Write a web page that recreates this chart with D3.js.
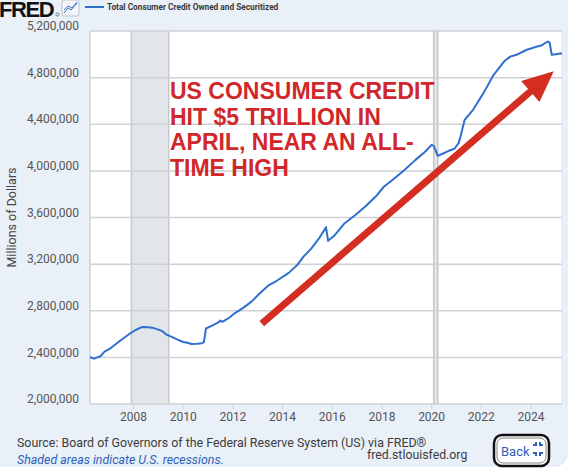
<!DOCTYPE html>
<html>
<head>
<meta charset="utf-8">
<script src="https://cdn.jsdelivr.net/npm/d3@7.9.0/dist/d3.min.js"></script>
<style>
  body { margin: 0; background: #fff; }
  text { font-family: Roboto, "Noto Sans", sans-serif; }
</style>
</head>
<body>
<svg id="chart" width="575" height="474"></svg>
<script>
// data (millions of dollars)
const months = [
  '2006-04','2006-06','2006-09','2006-11','2007-02','2007-05','2007-08','2007-11',
  '2008-02','2008-05','2008-08','2008-10','2009-01','2009-03','2009-05','2009-08',
  '2009-10','2010-01','2010-03','2010-05','2010-08','2010-10','2010-11','2010-12',
  '2011-03','2011-06','2011-07','2011-08','2011-11','2012-02','2012-06','2012-10',
  '2013-02','2013-06','2013-10','2014-04','2014-08','2014-11','2015-03','2015-07',
  '2015-10','2015-11','2016-02','2016-07','2016-12','2017-05','2017-10','2018-02',
  '2018-07','2018-12','2019-05','2019-10','2020-01','2020-02','2020-04','2020-06',
  '2020-09','2020-12','2021-02','2021-03','2021-05','2021-09','2022-02','2022-07',
  '2022-12','2023-03','2023-06','2023-11','2024-04','2024-06','2024-09','2024-10',
  '2024-11','2025-01','2025-04'
];
const credit = [
  2401000,2389000,2410000,2449000,2480000,2521000,2562000,2601000,
  2635000,2660000,2658000,2655000,2638000,2625000,2595000,2572000,
  2555000,2532000,2526000,2515000,2516000,2522000,2530000,2648000,
  2672000,2700000,2716000,2705000,2738000,2780000,2825000,2878000,
  2950000,3015000,3055000,3125000,3190000,3262000,3335000,3430000,
  3517000,3400000,3445000,3551000,3620000,3694000,3780000,3866000,
  3935000,4009000,4090000,4166000,4223000,4215000,4129000,4145000,
  4170000,4190000,4238000,4295000,4438000,4524000,4667000,4824000,
  4938000,4980000,4996000,5039000,5067000,5075000,5110000,5101000,
  4996000,5000000,5010000
];
const yTicks = [2000000, 2400000, 2800000, 3200000, 3600000, 4000000, 4400000, 4800000, 5200000];
const xTicks = [2008, 2010, 2012, 2014, 2016, 2018, 2020, 2022, 2024];
const recessions = [['2007-12', '2009-06'], ['2020-02', '2020-04']];

const seriesName = 'Total Consumer Credit Owned and Securitized';
const yLabel = 'Millions of Dollars';
const noteLines = ['US CONSUMER CREDIT', 'HIT $5 TRILLION IN', 'APRIL, NEAR AN ALL-', 'TIME HIGH'];
const arrowFrom = ['2013-03', 2690000];
const arrowTo = ['2024-12', 4855000];

const parse = d3.timeParse('%Y-%m');
const data = months.map((m, i) => ({ date: parse(m), value: credit[i] }));

const svg = d3.select('#chart');
const plotL = 90, plotR = 562, plotT = 31, plotB = 404;

const x = d3.scaleTime()
  .domain([parse('2006-04'), parse('2025-04')])
  .range([plotL, plotR]);
const y = d3.scaleLinear()
  .domain([2000000, 5200000])
  .range([plotB, plotT]);

// panel background
svg.append('rect')
  .attr('x', -12).attr('y', -12)
  .attr('width', 579).attr('height', 478)
  .attr('rx', 12)
  .attr('fill', '#eaf0f8')
  .attr('stroke', '#dfe5ee');

// plot area
svg.append('rect')
  .attr('x', plotL).attr('y', plotT)
  .attr('width', plotR - plotL).attr('height', plotB - plotT)
  .attr('fill', '#fff');

// recession shading
recessions.forEach(([a, b]) => {
  const x0 = x(parse(a)), x1 = x(parse(b));
  svg.append('rect')
    .attr('x', x0).attr('y', plotT)
    .attr('width', x1 - x0).attr('height', plotB - plotT)
    .attr('fill', '#e2e5e9');
  [x0, x1].forEach(v => {
    svg.append('line')
      .attr('x1', v).attr('x2', v).attr('y1', plotT).attr('y2', plotB)
      .attr('stroke', '#c6c8cc').attr('stroke-width', 1.5);
  });
});

// horizontal grid
svg.append('g')
  .selectAll('line')
  .data(yTicks)
  .join('line')
  .attr('x1', plotL).attr('x2', plotR)
  .attr('y1', d => y(d)).attr('y2', d => y(d))
  .attr('stroke', '#cfd1d4')
  .attr('stroke-width', 1.5);

// plot edges
svg.append('line')
  .attr('x1', plotL).attr('x2', plotL).attr('y1', plotT).attr('y2', plotB)
  .attr('stroke', '#cdd3da').attr('stroke-width', 1.5);
svg.append('line')
  .attr('x1', plotR).attr('x2', plotR).attr('y1', plotT).attr('y2', plotB)
  .attr('stroke', '#dde2e8').attr('stroke-width', 1);

// y tick labels
svg.append('g')
  .selectAll('text')
  .data(yTicks)
  .join('text')
  .attr('x', 79)
  .attr('y', d => y(d) - 5)
  .attr('dy', '0.35em')
  .attr('text-anchor', 'end')
  .attr('font-size', 12)
  .attr('fill', '#555')
  .text(d => d3.format(',')(d));

// x ticks and labels
const xg = svg.append('g');
xTicks.forEach(yr => {
  const px = x(new Date(yr, 0, 1));
  xg.append('line')
    .attr('x1', px).attr('x2', px).attr('y1', plotB).attr('y2', plotB + 5)
    .attr('stroke', '#d0d3d7');
  xg.append('text')
    .attr('x', px).attr('y', plotB + 17)
    .attr('text-anchor', 'middle')
    .attr('font-size', 12)
    .attr('fill', '#555')
    .text(yr);
});

// y axis title
svg.append('text')
  .attr('transform', `translate(16,${(plotT + plotB) / 2}) rotate(-90)`)
  .attr('text-anchor', 'middle')
  .attr('font-size', 12.5)
  .attr('fill', '#444')
  .text(yLabel);

// series line
svg.append('path')
  .datum(data)
  .attr('fill', 'none')
  .attr('stroke', '#2f6fcf')
  .attr('stroke-width', 2)
  .attr('stroke-linejoin', 'round')
  .attr('d', d3.line().x(d => x(d.date)).y(d => y(d.value)));

// annotation text
svg.append('g')
  .selectAll('text')
  .data(noteLines)
  .join('text')
  .attr('x', 170)
  .attr('y', (d, i) => 99 + i * 25.7)
  .attr('font-weight', 'bold')
  .attr('font-size', 23)
  .attr('fill', '#d0282a')
  .style('font-family', '"Liberation Sans", Arial, sans-serif')
  .text(d => d);

// arrow
const ax0 = x(parse(arrowFrom[0])), ay0 = y(arrowFrom[1]);
const ax1 = x(parse(arrowTo[0])), ay1 = y(arrowTo[1]);
const ang = Math.atan2(ay1 - ay0, ax1 - ax0);
const headLen = 31, headHalf = 14;
const bx = ax1 - headLen * Math.cos(ang), by = ay1 - headLen * Math.sin(ang);
svg.append('line')
  .attr('x1', ax0).attr('y1', ay0)
  .attr('x2', bx + 3 * Math.cos(ang)).attr('y2', by + 3 * Math.sin(ang))
  .attr('stroke', '#d42d22')
  .attr('stroke-width', 7);
svg.append('polygon')
  .attr('points', [
    [ax1, ay1],
    [bx - headHalf * Math.sin(ang), by + headHalf * Math.cos(ang)],
    [bx + headHalf * Math.sin(ang), by - headHalf * Math.cos(ang)]
  ].map(p => p.join(',')).join(' '))
  .attr('fill', '#d42d22');

// header: logo + legend
svg.append('text')
  .attr('x', -1).attr('y', 17)
  .attr('font-size', 22)
  .attr('font-weight', 900)
  .attr('letter-spacing', -1.4)
  .attr('fill', '#111')
  .style('font-family', '"Liberation Sans", Arial, sans-serif')
  .text('FRED');
svg.append('circle')
  .attr('cx', 57.5).attr('cy', 14.5).attr('r', 1.6)
  .attr('fill', 'none').attr('stroke', '#111').attr('stroke-width', 0.5);
svg.append('rect')
  .attr('x', 62).attr('y', 0).attr('width', 17).attr('height', 16)
  .attr('rx', 2)
  .attr('fill', '#f4f6f9').attr('stroke', '#b9c2cf');
svg.append('path')
  .attr('d', 'M64,13 L68,8 L71,10 L77,3 M64,10 L68,6 L72,8 L77,2')
  .attr('fill', 'none').attr('stroke', '#3b6fc4').attr('stroke-width', 1);
svg.append('line')
  .attr('x1', 85).attr('x2', 104).attr('y1', 7).attr('y2', 7)
  .attr('stroke', '#2f6fcf').attr('stroke-width', 2);
svg.append('text')
  .attr('x', 107).attr('y', 9.5)
  .attr('font-size', 8.3)
  .attr('font-weight', 'bold')
  .attr('fill', '#3a3a3a')
  .text(seriesName);

// footer
svg.append('text')
  .attr('x', 17).attr('y', 447)
  .attr('font-size', 12.4)
  .attr('fill', '#3c3c3c')
  .text('Source: Board of Governors of the Federal Reserve System (US) via FRED®');
svg.append('text')
  .attr('x', 17).attr('y', 464)
  .attr('font-size', 12.4)
  .attr('font-style', 'italic')
  .attr('fill', '#2d62b8')
  .text('Shaded areas indicate U.S. recessions.');
svg.append('text')
  .attr('x', 367).attr('y', 459)
  .attr('font-size', 12.3)
  .attr('fill', '#3c3c3c')
  .text('fred.stlouisfed.org');

// back button
svg.append('rect')
  .attr('x', 494).attr('y', 435).attr('width', 55).attr('height', 31)
  .attr('rx', 8)
  .attr('fill', '#fff')
  .attr('stroke', '#111').attr('stroke-width', 2.5);
svg.append('rect')
  .attr('x', 497).attr('y', 438).attr('width', 49).attr('height', 25)
  .attr('rx', 6)
  .attr('fill', 'none')
  .attr('stroke', '#666').attr('stroke-width', 0.8);
svg.append('text')
  .attr('x', 501).attr('y', 456)
  .attr('font-size', 13)
  .attr('fill', '#2d62b8')
  .text('Back');
svg.append('path')
  .attr('d', 'M533,445 h3 v-3 M540,442 v3 h3 M533,453 h3 v3 M540,456 v-3 h3')
  .attr('fill', 'none')
  .attr('stroke', '#2d62b8').attr('stroke-width', 2);
</script>
</body>
</html>
